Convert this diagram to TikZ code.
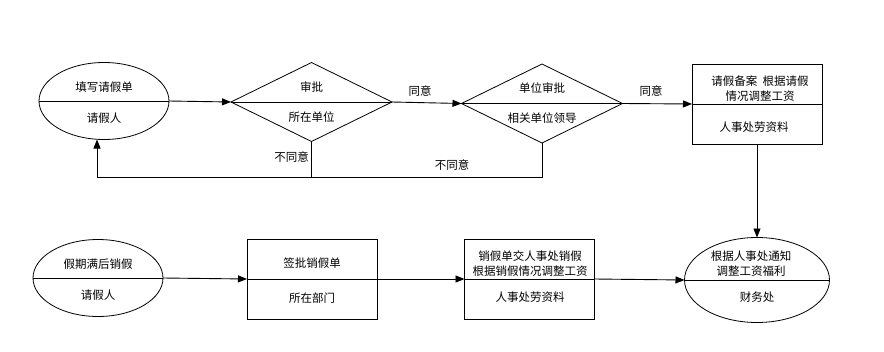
\documentclass[tikz,border=0pt]{standalone}
\usepackage{fontspec}
\newfontfamily\cjk{Noto Sans CJK SC}
\usetikzlibrary{arrows.meta, positioning, shapes.geometric}

\begin{document}
\begin{tikzpicture}[
    x=1pt, y=-1pt,
    oval/.style={ellipse, draw=black, line width=0.8pt, minimum width=130pt, minimum height=77pt, inner sep=0pt, outer sep=0pt},
    gate/.style={diamond, draw=black, line width=0.8pt, minimum width=161pt, minimum height=79pt, inner sep=0pt, outer sep=0pt},
    box/.style={rectangle, draw=black, line width=0.9pt, minimum width=130pt, minimum height=80pt, inner sep=0pt, outer sep=0pt},
    txt/.style={font=\cjk\fontsize{11.5}{15}\selectfont, inner sep=0pt, align=center},
    flow/.style={-{Triangle[length=9pt,width=7pt]}, line width=0.9pt},
    line/.style={line width=0.9pt}
]
    \useasboundingbox (0,0) rectangle (884,351);

    % upper row
    \node[oval] (apply) at (104,101) {};
    \node[gate] (unit) at (311.5,102) {};
    \node[gate] (dept) at (542,103.5) {};
    \node[box] (hr) at (757,104) {};
    \draw[line] (apply.west) -- (apply.east);
    \draw[line] (unit.west) -- (unit.east);
    \draw[line] (dept.west) -- (dept.east);
    \draw[line] (hr.west) -- (hr.east);

    \node[txt] (applyt) at (104,87) {填写请假单};
    \node[txt] (applyb) at (104,118) {请假人};
    \node[txt] (unitt) at (311.5,87) {审批};
    \node[txt] (unitb) at (311.5,117) {所在单位};
    \node[txt] (deptt) at (542,88) {单位审批};
    \node[txt] (deptb) at (542,118) {相关单位领导};
    \node[txt] (hrt) at (760,89) {请假备案\ \ 根据请假\\情况调整工资};
    \node[txt] (hrb) at (754,127) {人事处劳资料};

    \draw[flow] (apply.east) -- (unit.west);
    \draw[flow] (unit.east) -- (dept.west);
    \draw[flow] (dept.east) -- (hr.west);
    \node[txt] (ok1) at (420,91) {同意};
    \node[txt] (ok2) at (651,91) {同意};

    % back to applicant
    \coordinate (back) at (97,177);
    \draw[line] (unit.south) -- (unit.south |- back);
    \draw[flow] (dept.south) |- (back) -- (back |- apply.south);
    \node[txt, anchor=east] (no1) at (309,157) {不同意};
    \node[txt] (no2) at (452,165) {不同意};

    % lower row
    \node[oval] (finish) at (98,278) {};
    \node[box] (sign) at (312,279) {};
    \node[box] (hand) at (529.5,279) {};
    \node[oval, minimum width=145pt, minimum height=85pt] (pay) at (757,280) {};
    \draw[line] (finish.west) -- (finish.east);
    \draw[line] (sign.west) -- (sign.east);
    \draw[line] (hand.west) -- (hand.east);
    \draw[line] (pay.west) -- (pay.east);

    \node[txt] (finisht) at (98,264) {假期满后销假};
    \node[txt] (finishb) at (98,295) {请假人};
    \node[txt] (signt) at (312,263) {签批销假单};
    \node[txt] (signb) at (312,298) {所在部门};
    \node[txt] (handt) at (530,264) {销假单交人事处销假\\根据销假情况调整工资};
    \node[txt] (handb) at (530,297) {人事处劳资料};
    \node[txt] (payt) at (751,264) {根据人事处通知\\调整工资福利};
    \node[txt] (payb) at (757,297) {财务处};

    \draw[flow] (finish.east) -- (sign.west);
    \draw[flow] (sign.east) -- (hand.west);
    \draw[flow] (hand.east) -- (pay.west);
    \draw[flow] (hr.south) -- (pay.north);
\end{tikzpicture}
\end{document}
